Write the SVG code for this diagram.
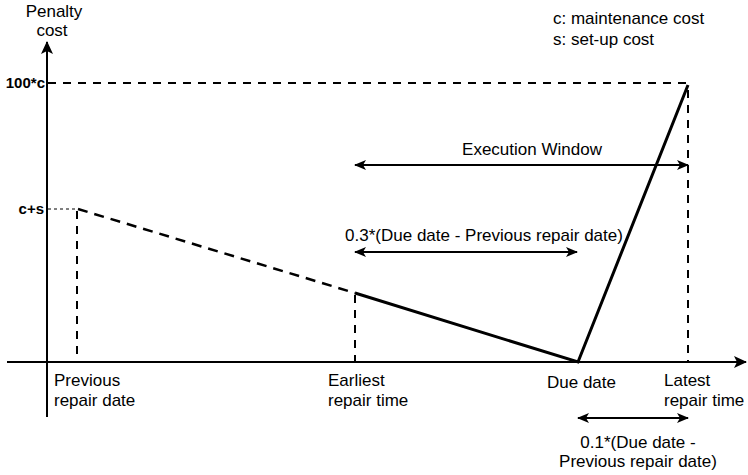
<svg xmlns="http://www.w3.org/2000/svg" width="748" height="475" viewBox="0 0 748 475">
<defs>
<marker id="ah" viewBox="0 0 12 10" refX="11" refY="5" markerWidth="12" markerHeight="10" markerUnits="userSpaceOnUse" orient="auto-start-reverse">
<path d="M0,0 L12,5 L0,10 L3,5 Z" fill="#000"/>
</marker>
<marker id="axh" viewBox="0 0 13 12" refX="12" refY="6" markerWidth="13" markerHeight="12" markerUnits="userSpaceOnUse" orient="auto">
<path d="M0,0 L13,6 L0,12 L3,6 Z" fill="#000"/>
</marker>
</defs>
<style>
text{font-family:"Liberation Sans",Arial,sans-serif;font-size:17px;fill:#000}
.b{font-weight:bold;font-size:15px}
.axis{stroke:#000;stroke-width:2;fill:none}
.dash{stroke:#000;stroke-width:2;stroke-dasharray:8 7;fill:none}
.dot{stroke:#000;stroke-width:1;stroke-dasharray:3 3;fill:none}
.curve{stroke:#000;stroke-width:3;fill:none}
.curved{stroke:#000;stroke-width:2.5;stroke-dasharray:10 7;fill:none}
.dim{stroke:#000;stroke-width:2;fill:none;marker-start:url(#ah);marker-end:url(#ah)}
</style>
<g id="connectors">
<line class="axis" x1="47" y1="417" x2="47" y2="42" marker-end="url(#axh)"/>
<line class="axis" x1="7" y1="362" x2="746" y2="362" marker-end="url(#axh)"/>
<line class="dash" x1="48" y1="83" x2="688" y2="83"/>
<line class="dot" x1="48" y1="209" x2="77" y2="209"/>
<line class="dash" x1="77" y1="211" x2="77" y2="361"/>
<line class="dash" x1="355" y1="295" x2="355" y2="361"/>
<line class="dash" x1="688" y1="90" x2="688" y2="361"/>
<line class="curved" x1="78" y1="209" x2="355" y2="293"/>
<polyline class="curve" points="355,293 578,362 688,85"/>
<line class="dim" x1="355" y1="165" x2="688" y2="165"/>
<line class="dim" x1="355" y1="252" x2="577" y2="252"/>
<line class="dim" x1="578" y1="418" x2="688" y2="418"/>
</g>
<g id="axis-labels">
<text x="54" y="17" text-anchor="middle" font-size="16">Penalty</text>
<text x="52" y="36" text-anchor="middle" font-size="16">cost</text>
<text class="b" x="45" y="88" text-anchor="end">100*c</text>
<text class="b" x="44" y="214" text-anchor="end">c+s</text>
</g>
<g id="legend">
<text x="553" y="24">c: maintenance cost</text>
<text x="553" y="45">s: set-up cost</text>
</g>
<g id="execution-window">
<text x="532" y="155" text-anchor="middle" font-size="16">Execution Window</text>
</g>
<g id="earliest-span">
<text x="484" y="241" text-anchor="middle">0.3*(Due date - Previous repair date)</text>
</g>
<g id="latest-span">
<text x="638" y="448" text-anchor="middle">0.1*(Due date -</text>
<text x="638" y="467" text-anchor="middle">Previous repair date)</text>
</g>
<g id="previous-repair-date">
<text x="54" y="386">Previous</text>
<text x="54" y="406">repair date</text>
</g>
<g id="earliest-repair-time">
<text x="328" y="386">Earliest</text>
<text x="328" y="406">repair time</text>
</g>
<g id="due-date">
<text x="547" y="388">Due date</text>
</g>
<g id="latest-repair-time">
<text x="664" y="386">Latest</text>
<text x="664" y="406">repair time</text>
</g>
</svg>
